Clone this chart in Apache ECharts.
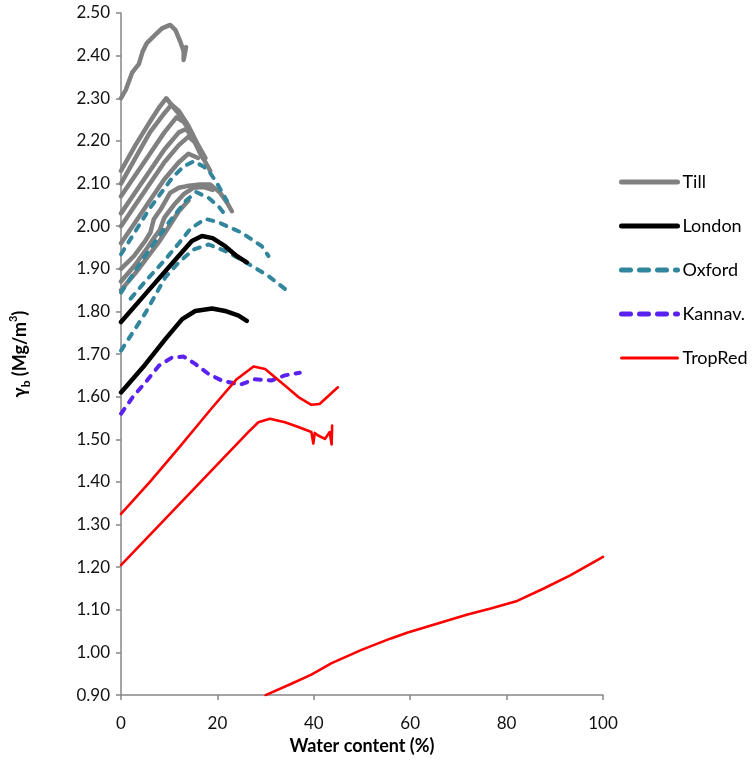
<!DOCTYPE html>
<html lang="en">
<head>
    <meta charset="UTF-8">
    <title>Bulk unit weight vs water content</title>
    <script src="https://cdn.jsdelivr.net/npm/echarts@6/dist/echarts.min.js"></script>
    <style>
        html, body { margin: 0; padding: 0; background: #fff; }
        #container { width: 752px; height: 760px; }
    </style>
</head>
<body>
<div id="container"></div>
<script type="text/javascript">
    // axis ticks
    var xTicks = [0, 20, 40, 60, 80, 100];
    var yTicks = [0.90, 1.00, 1.10, 1.20, 1.30, 1.40, 1.50, 1.60, 1.70, 1.80, 1.90, 2.00, 2.10, 2.20, 2.30, 2.40, 2.50];
    var legendNames = ['Till', 'London', 'Oxford', 'Kannav.', 'TropRed'];

    // Till tests [w %, gamma_b]
    var till1 = [[0, 2.30], [1, 2.32], [2.3, 2.36], [3.7, 2.38], [4.5, 2.41], [5.4, 2.43], [7.2, 2.45], [8.5, 2.464], [10.2, 2.472], [11.3, 2.46], [12.3, 2.433], [13, 2.41], [13, 2.39], [13.5, 2.42]];
    var till2 = [[0, 2.13], [3, 2.19], [6, 2.245], [8, 2.28], [9.4, 2.30], [11, 2.277], [13.3, 2.246], [15.1, 2.203], [16.4, 2.172], [17.5, 2.15], [18.5, 2.13]];
    var till3 = [[0, 2.10], [3, 2.16], [6, 2.22], [9, 2.265], [10.5, 2.285], [12, 2.27], [14, 2.235], [16, 2.19], [17.5, 2.16]];
    var till4 = [[0, 2.07], [3, 2.12], [6, 2.17], [9, 2.22], [11.5, 2.255], [13, 2.245], [15, 2.21], [16.5, 2.175]];
    var till5 = [[0, 2.03], [3, 2.08], [6, 2.13], [9, 2.18], [12, 2.22], [13.5, 2.228], [15, 2.205], [16.5, 2.17]];
    var till6 = [[0, 2.00], [3, 2.05], [6, 2.10], [9, 2.15], [12, 2.19], [14, 2.21], [15.5, 2.195], [17, 2.16]];
    var till7 = [[0, 1.96], [3, 2.01], [6, 2.06], [9, 2.11], [12, 2.15], [14, 2.17], [16, 2.16]];
    var till8 = [[0, 1.90], [2.7, 1.93], [5, 1.965], [6.1, 1.985], [6.8, 2.016], [8.2, 2.039], [10.2, 2.078], [12, 2.09], [13.7, 2.094], [16.4, 2.098], [18.5, 2.098], [20.6, 2.078], [22, 2.055], [23, 2.035]];
    var till9 = [[0, 1.87], [3, 1.91], [5.5, 1.95], [7, 1.975], [8, 1.99], [9, 2.02], [11, 2.05], [13, 2.075], [15, 2.09], [17, 2.092], [19, 2.085]];
    var till10 = [[0, 1.85], [3, 1.89], [6, 1.935], [8, 1.965], [10, 2.00], [12, 2.035], [14, 2.06]];

    // London clay
    var london1 = [[0, 1.775], [5, 1.84], [10, 1.905], [14.7, 1.965], [16.8, 1.977], [19, 1.972], [21.6, 1.953], [24, 1.93], [26.1, 1.915]];
    var london2 = [[0, 1.61], [5, 1.675], [9.2, 1.735], [12.7, 1.782], [15.4, 1.801], [18.9, 1.807], [21.6, 1.801], [24.4, 1.79], [26.1, 1.778]];

    // Oxford clay
    var oxford1 = [[0, 1.934], [5.8, 2.039], [10.6, 2.113], [13, 2.14], [15.1, 2.152], [17.1, 2.14], [18.2, 2.13], [19.9, 2.101], [22, 2.059]];
    var oxford2 = [[0, 1.844], [5, 1.93], [10, 2.01], [13.5, 2.06], [15.6, 2.08], [18.2, 2.066], [20.2, 2.047], [21.6, 2.027]];
    var oxford3 = [[2, 1.83], [5, 1.87], [9.2, 1.922], [12, 1.96], [14.5, 1.995], [17.5, 2.017], [20, 2.01], [25, 1.985], [29.2, 1.953], [30.6, 1.93]];
    var oxford4 = [[0, 1.708], [5.1, 1.797], [9.2, 1.88], [12, 1.915], [15, 1.945], [18.2, 1.957], [22, 1.94], [27.1, 1.907], [30.6, 1.883], [35, 1.844]];

    // Kannav.
    var kannav = [[0, 1.56], [2.5, 1.60], [5.1, 1.634], [7.9, 1.673], [10.6, 1.692], [13, 1.694], [15.4, 1.677], [18.2, 1.653], [20.9, 1.638], [24.7, 1.628], [27.8, 1.641], [31.3, 1.638], [34, 1.65], [37.1, 1.656]];

    // tropical red soil
    var trop1 = [[0, 1.325], [6, 1.40], [12, 1.48], [16.4, 1.54], [18.9, 1.574], [24, 1.641], [27.5, 1.671], [29.9, 1.665], [34, 1.626], [36.8, 1.599], [39.5, 1.581], [41.2, 1.583], [45, 1.622]];
    var trop2 = [[0, 1.205], [26.4, 1.517], [28.5, 1.54], [30.9, 1.548], [34, 1.54], [36.8, 1.529], [39.5, 1.517], [39.9, 1.49], [40.2, 1.515], [40.9, 1.509], [42.3, 1.501], [43.3, 1.517], [43.7, 1.488], [43.8, 1.532]];
    var trop3 = [[30, 0.90], [35, 0.925], [39.5, 0.948], [43.7, 0.975], [49.9, 1.006], [56, 1.033], [59.5, 1.047], [65.7, 1.068], [71.9, 1.089], [76.7, 1.103], [82.2, 1.121], [87.7, 1.15], [93.2, 1.181], [100, 1.224]];

    var FONT = 'Lato';

    function line(name, data, color, width, type) {
        return {
            name: name,
            type: 'line',
            data: data,
            symbol: 'none',
            smooth: false,
            lineStyle: { color: color, width: width, type: type || 'solid', cap: 'round', join: 'round' },
            itemStyle: { color: color },
            emphasis: { disabled: true }
        };
    }

    var series = [];
    [till1, till2, till3, till4, till5, till6, till7, till8, till9, till10].forEach(function (d) {
        series.push(line('Till', d, '#808080', 4.5));
    });
    [oxford1, oxford2, oxford3, oxford4].forEach(function (d) {
        series.push(line('Oxford', d, '#31859C', 4, [6, 8]));
    });
    [london1, london2].forEach(function (d) {
        series.push(line('London', d, '#000000', 4.5));
    });
    series.push(line('Kannav.', kannav, '#5A22F0', 4, [6, 8]));
    [trop1, trop2, trop3].forEach(function (d) {
        series.push(line('TropRed', d, '#FF0000', 2.6));
    });

    // legend line weights follow the series
    var legendWidths = [5, 5, 5, 5, 3];
    var legendDash = ['solid', 'solid', [9, 9], [9, 9], 'solid'];
    var legendData = legendNames.map(function (n, i) {
        return { name: n, lineStyle: { width: legendWidths[i], type: legendDash[i], cap: 'round' } };
    });

    var myChart = echarts.init(document.getElementById('container'));
    var option = {
        animation: false,
        backgroundColor: '#ffffff',
        grid: { left: 119, right: 149, top: 13, bottom: 63 },
        legend: {
            data: legendData,
            orient: 'vertical',
            left: 614,
            top: 168,
            itemWidth: 56,
            itemHeight: 14,
            itemGap: 26,
            selectedMode: false,
            itemStyle: { opacity: 0, borderWidth: 0 },
            textStyle: { fontFamily: FONT, fontSize: 18, color: '#000' }
        },
        xAxis: {
            type: 'value',
            min: xTicks[0],
            max: xTicks[xTicks.length - 1],
            interval: 20,
            name: 'Water content (%)',
            nameLocation: 'middle',
            nameGap: 40,
            nameTextStyle: { fontFamily: FONT, fontSize: 18, fontWeight: 'bold', color: '#000' },
            axisLine: { lineStyle: { color: '#868686', width: 1.5 } },
            axisTick: { show: true, length: 5, lineStyle: { color: '#868686', width: 1.5 } },
            axisLabel: { fontFamily: FONT, fontSize: 17, color: '#111', margin: 20 },
            splitLine: { show: false }
        },
        yAxis: {
            type: 'value',
            min: yTicks[0],
            max: yTicks[yTicks.length - 1],
            interval: 0.1,
            name: '{a|γ}{b|b}{a| (Mg/m}{c|3}{a|)}',
            nameLocation: 'middle',
            nameGap: 89,
            nameRotate: 90,
            nameTextStyle: {
                rich: {
                    a: { fontFamily: FONT, fontSize: 18, fontWeight: 'bold', color: '#000', lineHeight: 24 },
                    b: { fontFamily: FONT, fontSize: 12, fontWeight: 'bold', color: '#000', lineHeight: 12, verticalAlign: 'bottom' },
                    c: { fontFamily: FONT, fontSize: 11, fontWeight: 'bold', color: '#000', lineHeight: 11, verticalAlign: 'top' }
                }
            },
            axisLine: { show: true, lineStyle: { color: '#868686', width: 1.5 } },
            axisTick: { show: true, length: 5, lineStyle: { color: '#868686', width: 1.5 } },
            axisLabel: {
                fontFamily: FONT, fontSize: 17, color: '#111', margin: 11,
                formatter: function (v) { return v.toFixed(2); }
            },
            splitLine: { show: false }
        },
        series: series
    };
    myChart.setOption(option);
</script>
</body>
</html>
